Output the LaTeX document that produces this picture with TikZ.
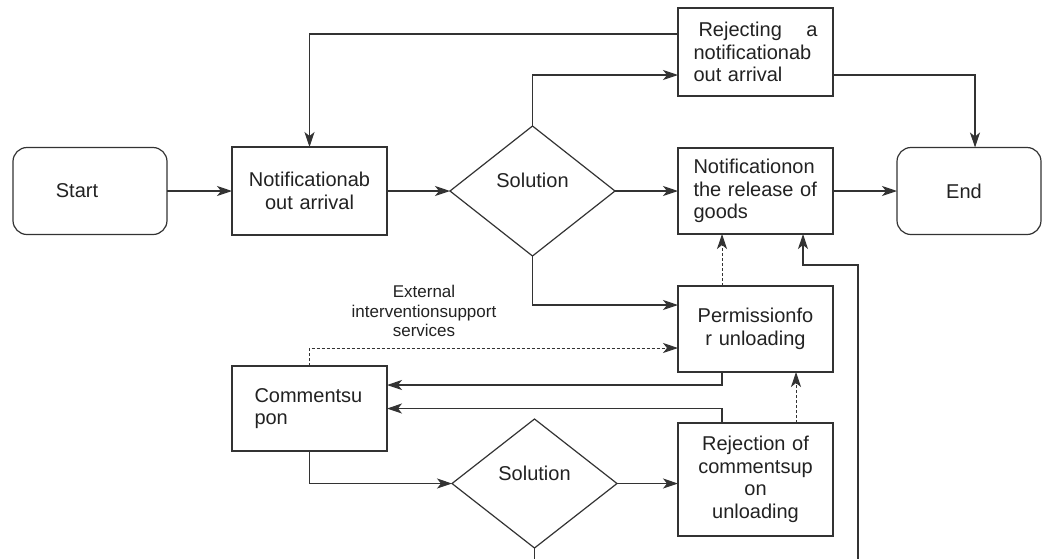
\documentclass[tikz,border=0pt]{standalone}
\usepackage{fontspec}
\setmainfont{Liberation Sans}
\usetikzlibrary{arrows.meta,shapes.geometric}
\definecolor{ln}{HTML}{333333}
\definecolor{tx}{HTML}{222222}
\begin{document}
\begin{tikzpicture}[x=1pt,y=-1pt,
 every node/.style={text=tx, font=\fontsize{20}{22.5}\selectfont, outer sep=0pt},
 box/.style={draw=ln, line width=1.2pt, rectangle, inner sep=0pt, minimum width=155pt},
 term/.style={draw=ln, line width=1.2pt, rectangle, rounded corners=14pt, inner sep=0pt},
 dec/.style={draw=ln, line width=1.2pt, diamond, inner sep=0pt, minimum width=165pt, minimum height=130pt},
 lbl/.style={inner sep=0pt},
 flow/.style={draw=ln, line width=1.1pt, -{Stealth[length=15pt,width=10pt,inset=4pt]}},
 link/.style={draw=ln, line width=1.1pt},
 dflow/.style={draw=ln, line width=0.9pt, dash pattern=on 3pt off 2pt, -{Stealth[length=15pt,width=10pt,inset=4pt]}},
]
\fill[white] (0,0) rectangle (1043,558);
\useasboundingbox (0,0) rectangle (1043,558);

% terminals
\node[term, minimum width=154pt, minimum height=87pt] (start) at (90,191) {};
\node[lbl] (startl) at (77,191) {Start};
\node[term, minimum width=144pt, minimum height=87pt] (end) at (969,191) {};
\node[lbl] (endl) at (964,191) {End};

% process boxes
\node[box, minimum height=88pt, text width=130pt, align=center] (notif) at (309.5,191) {Notificationab\\out arrival};
\node[box, minimum height=88pt, text width=124pt, align=left] (rej) at (755.5,52) {\makebox[124pt]{\hspace{5pt}Rejecting\hfill a}\\notificationab\\out arrival};
\node[box, minimum height=86pt, text width=124pt, align=left] (release) at (755.5,191) {Notificationon\\\makebox[124pt][s]{the release of}\\goods};
\node[box, minimum height=86pt, text width=130pt, align=center] (perm) at (755.5,329) {Permissionfo\\r unloading};
\node[box, minimum height=85pt, text width=110pt, align=left] (comm) at (309.5,408.5) {Commentsu\\pon};
\node[box, minimum height=113pt, text width=130pt, align=center] (rej2) at (755.5,479.5) {Rejection of\\commentsup\\on\\unloading};

% decisions
\node[dec] (d1) at (532.5,191) {};
\node[lbl] (sol1) at (532.5,180) {Solution};
\node[dec, minimum height=129pt] (d2) at (534.5,483.5) {};
\node[lbl] (sol2) at (534.5,473) {Solution};

% label
\node[lbl, font=\fontsize{17}{19.5}\selectfont, align=center] (ext) at (424,311) {External\\interventionsupport\\services};

% connectors
\draw[flow] (start.east) -- (notif.west);
\draw[flow] (notif.east) -- (d1.west);
\draw[flow] (d1.east) -- (release.west);
\draw[flow] (release.east) -- (end.west);
\draw[flow] (d1.north) |- ([yshift=-23pt]rej.west);
\draw[flow] ([yshift=-23pt]rej.east) -| ([xshift=6pt]end.north);
\draw[flow] ([yshift=18pt]rej.west) -| (notif.north);
\draw[flow] (d1.south) |- ([yshift=24pt]perm.west);
\draw[dflow] (comm.north) |- ([yshift=-19pt]perm.west);
\draw[dflow] ([xshift=-33.5pt]perm.north) -- ([xshift=-33.5pt]release.south);
\draw[flow] ([xshift=-33.5pt]perm.south) |- ([yshift=23.5pt]comm.east);
\draw[flow] ([xshift=-33.5pt]rej2.north) |- (comm.east);
\draw[dflow] ([xshift=40.5pt]rej2.north) -- ([xshift=40.5pt]perm.south);
\draw[flow] (comm.south) |- (d2.west);
\draw[flow] (d2.east) -- (d2.east -| rej2.west);
\coordinate (d2out) at (534.5,560);
\draw[link] (d2.south) -- (d2out);
\coordinate (rbot) at (858,560);
\coordinate (rturn) at (858,265);
\draw[flow] (rbot) -- (rturn) -| ([xshift=47.5pt]release.south);
\end{tikzpicture}
\end{document}
